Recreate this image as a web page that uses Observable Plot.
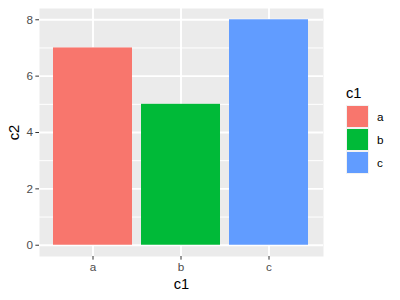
<!DOCTYPE html>
<html>
<head>
<meta charset="utf-8">
<script src="https://cdn.jsdelivr.net/npm/d3@7"></script>
<script src="https://cdn.jsdelivr.net/npm/@observablehq/plot@0.6"></script>
<style>
  html, body { margin: 0; padding: 0; background: #fff; }
  #wrap { position: relative; width: 400px; height: 300px; font-family: "Liberation Sans", Arial, sans-serif; font-weight: normal; }
  #legend { position: absolute; left: 346px; top: 83px; }
  #legend .title { font-size: 14.7px; font-weight: normal; color: #000; height: 22px; line-height: 20px; }
  #legend .row { display: flex; align-items: center; height: 23px; }
  #legend .key { width: 23px; height: 23px; background: #F2F2F2; position: relative; }
  #legend .key span { position: absolute; left: 1px; top: 1px; width: 21px; height: 21px; }
  #legend .lab { font-size: 11.7px; font-weight: normal; color: #000; margin-left: 8px; }
</style>
</head>
<body>
<div id="wrap"></div>
<script>
const categories = ["a", "b", "c"];
const values = [7, 5, 8];
const colors = ["#F8766D", "#00BA38", "#619CFF"];
const yMajor = [0, 2, 4, 6, 8];
const yMinor = [1, 3, 5, 7];

const data = categories.map((c, i) => ({c1: c, c2: values[i]}));

const chart = Plot.plot({
  width: 400,
  height: 300,
  marginLeft: 39,
  marginRight: 77,
  marginTop: 8,
  marginBottom: 44,
  style: {fontFamily: "'Liberation Sans', Arial, sans-serif", background: "white", fontWeight: "normal"},
  x: {type: "band", domain: categories, paddingInner: 0.1, paddingOuter: 0.15, align: 0.5},
  y: {domain: [-0.4, 8.4]},
  color: {domain: categories, range: colors},
  marks: [
    Plot.frame({fill: "#EBEBEB", stroke: null}),
    Plot.gridY(yMinor, {stroke: "white", strokeOpacity: 1, strokeWidth: 1}),
    Plot.gridY(yMajor, {stroke: "white", strokeOpacity: 1, strokeWidth: 1.9}),
    Plot.gridX(categories, {stroke: "white", strokeOpacity: 1, strokeWidth: 1.9}),
    Plot.barY(data, {x: "c1", y: "c2", fill: "c1"}),
    Plot.axisY(yMajor, {
      tickSize: 3.65, tickPadding: 2.9, stroke: "#333333", fill: "#4D4D4D",
      fontSize: 11.7, label: "c2", labelAnchor: "center", labelArrow: "none", labelOffset: 31
    }),
    Plot.axisX(categories, {
      tickSize: 3.65, tickPadding: 2.9, stroke: "#333333", fill: "#4D4D4D",
      fontSize: 11.7, label: "c1", labelAnchor: "center", labelArrow: "none", labelOffset: 32
    })
  ]
});
chart.querySelectorAll("[aria-label='y-axis label'] text, [aria-label='x-axis label'] text").forEach(t => {
  t.style.fontSize = "14.7px"; t.style.fontWeight = "normal"; t.setAttribute("fill", "#000");
});
document.getElementById("wrap").appendChild(chart);

const legend = document.createElement("div");
legend.id = "legend";
legend.innerHTML = `<div class="title">c1</div>` + categories.map((c, i) =>
  `<div class="row"><div class="key"><span style="background:${colors[i]}"></span></div><div class="lab">${c}</div></div>`).join("");
document.getElementById("wrap").appendChild(legend);
</script>
</body>
</html>
